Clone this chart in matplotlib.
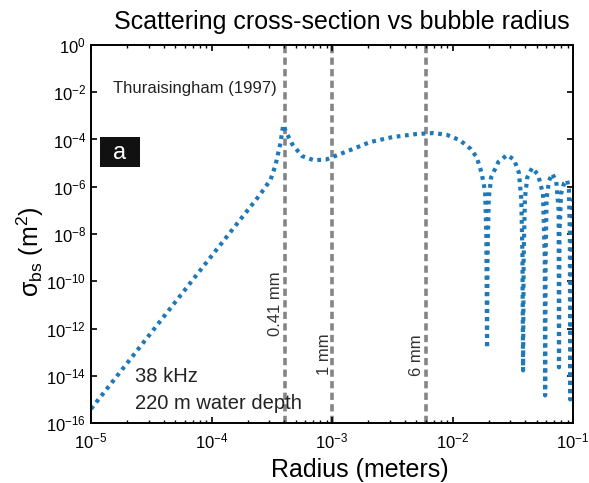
import numpy as np
import matplotlib
matplotlib.use("Agg")
import matplotlib.pyplot as plt
from matplotlib.patches import Rectangle
from matplotlib.ticker import LogLocator, NullLocator, LogFormatterMathtext

plt.rcParams['font.family'] = ['Liberation Sans', 'DejaVu Sans']
plt.rcParams['mathtext.fontset'] = 'custom'
plt.rcParams['mathtext.rm'] = 'Liberation Sans'
plt.rcParams['mathtext.it'] = 'Liberation Sans:italic'

# log10(radius [m]) and log10(sigma_bs [m^2])
log_radius = [-5.0, -4.5, -4.0, -3.76, -3.6, -3.51, -3.47, -3.43, -3.405, -3.38, -3.33,
              -3.25, -3.15, -3.05, -3.0, -2.85, -2.685, -2.5, -2.3, -2.16, -2.05, -1.94,
              -1.85, -1.80, -1.76, -1.73, -1.72, -1.714,
              -1.71, -1.70, -1.68, -1.62, -1.548, -1.49, -1.45, -1.43, -1.42, -1.415,
              -1.41, -1.40, -1.38, -1.34, -1.29, -1.25, -1.235, -1.232,
              -1.228, -1.22, -1.20, -1.174, -1.14, -1.12, -1.117,
              -1.113, -1.10, -1.075, -1.05, -1.035, -1.027, -1.024, -1.015, -1.0]
log_sigma = [-15.4, -12.17, -8.93, -7.38, -6.35, -5.7, -5.1, -4.2, -3.39, -3.7, -4.2,
             -4.7, -4.88, -4.85, -4.75, -4.45, -4.11, -3.9, -3.77, -3.73, -3.8, -4.03,
             -4.4, -4.75, -5.4, -6.2, -8.0, -12.84,
             -9.0, -6.5, -5.6, -4.95, -4.66, -4.85, -5.4, -6.5, -9.0, -13.77,
             -9.0, -6.5, -5.6, -5.2, -5.5, -6.3, -9.0, -14.83,
             -9.0, -6.5, -5.75, -5.45, -5.75, -7.0, -13.64,
             -8.0, -6.3, -5.85, -5.72, -6.1, -8.0, -15.0, -8.0, -6.5]

marker_radii = [4.1e-4, 1e-3, 6e-3]
marker_labels = ["0.41 mm", "1 mm", "6 mm"]

radius = 10.0 ** np.array(log_radius)
sigma = 10.0 ** np.array(log_sigma)

fig = plt.figure(figsize=(5.89, 4.83), dpi=100)
ax = fig.add_axes([0.1545, 0.124, 0.8185, 0.783])

for r in marker_radii:
    ax.axvline(r, color="#838686", lw=2.6, linestyle=(0, (2.0, 1.2)), zorder=1)

ax.plot(radius, sigma, color="#1f78b8", lw=3.0, linestyle=(0, (0.9, 1.1)), zorder=2)

ax.set_xscale("log")
ax.set_yscale("log")
ax.set_xlim(1e-5, 1e-1)
ax.set_ylim(1e-16, 1e0)

ax.xaxis.set_major_locator(LogLocator(base=10, numticks=10))
ax.xaxis.set_minor_locator(LogLocator(base=10, subs=np.arange(2, 10), numticks=10))
ax.yaxis.set_major_locator(LogLocator(base=100, numticks=20))
ax.yaxis.set_minor_locator(NullLocator())
ax.yaxis.set_major_formatter(LogFormatterMathtext(base=10))

ax.tick_params(which="both", direction="in", top=True, right=True, labelsize=12)
ax.tick_params(which="major", length=4, width=1.2)
ax.tick_params(which="minor", length=2.5, width=1.0)
ax.tick_params(axis="x", pad=6)
for s in ax.spines.values():
    s.set_linewidth(1.4)

fig.text(0.581, 0.954, "Scattering cross-section vs bubble radius", fontsize=18,
         ha="center", va="center")
fig.text(0.611, 0.027, "Radius (meters)", fontsize=18, ha="center", va="center")
fig.text(0.051, 0.478, r"σ$_{\mathrm{bs}}$ (m$^2$)", fontsize=18, rotation=90,
         ha="center", va="center")

ax.text(0.046, 0.886, "Thuraisingham (1997)", transform=ax.transAxes,
        fontsize=12, va="center", ha="left", color="#222222")
ax.add_patch(Rectangle((0.019, 0.677), 0.083, 0.080, transform=ax.transAxes,
                       facecolor="#111111", edgecolor="none", zorder=3))
ax.text(0.060, 0.714, "a", transform=ax.transAxes, fontsize=17, color="white",
        va="center", ha="center", zorder=4)
ax.text(0.091, 0.122, "38 kHz", transform=ax.transAxes, fontsize=14.5,
        va="center", ha="left", color="#222222")
ax.text(0.091, 0.053, "220 m water depth", transform=ax.transAxes, fontsize=14.5,
        va="center", ha="left", color="#222222")

label_pos = [(0.382, 0.317), (0.485, 0.183), (0.676, 0.180)]
for (lx, ly), lab in zip(label_pos, marker_labels):
    ax.text(lx, ly, lab, transform=ax.transAxes, rotation=90, fontsize=12,
            va="center", ha="center", color="#333333")

fig.savefig("out.png", dpi=100)
